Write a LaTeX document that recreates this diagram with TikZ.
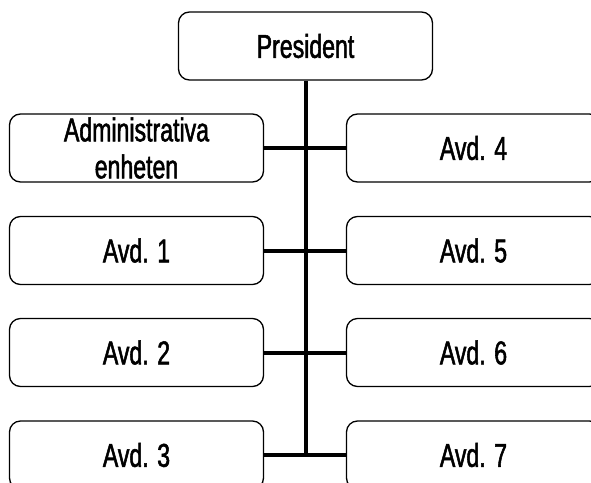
\documentclass[tikz,border=0pt]{standalone}
\usepackage{fontspec}
\setmainfont[FakeStretch=0.7,FakeBold=1.6]{Liberation Sans}

\begin{document}
\begin{tikzpicture}[x=1pt,y=-1pt,
    unit/.style={shape=rectangle,draw=black,line width=1.3pt,rounded corners=11pt,
        minimum width=254pt,minimum height=68pt,align=center,
        font=\fontsize{33}{37}\selectfont},
    link/.style={line width=4pt}]
    \clip (0,0) rectangle (591,482);

    % President
    \node[unit] (pres) at (305.5,46) {President};

    % Left column
    \node[unit] (adm) at (136.5,148) {Administrativa\\enheten};
    \node[unit] (avd1) at (136.5,250.5) {Avd. 1};
    \node[unit] (avd2) at (136.5,352.5) {Avd. 2};
    \node[unit] (avd3) at (136.5,455) {Avd. 3};

    % Right column
    \node[unit] (avd4) at (473.5,148) {Avd. 4};
    \node[unit] (avd5) at (473.5,250.5) {Avd. 5};
    \node[unit] (avd6) at (473.5,352.5) {Avd. 6};
    \node[unit] (avd7) at (473.5,455) {Avd. 7};

    \coordinate (spine) at (305.5,455);

    \draw[link] (pres.south) -- (spine);
    \draw[link] (adm.east) -- (avd4.west);
    \draw[link] (avd1.east) -- (avd5.west);
    \draw[link] (avd2.east) -- (avd6.west);
    \draw[link] (avd3.east) -- (avd7.west);
\end{tikzpicture}
\end{document}
